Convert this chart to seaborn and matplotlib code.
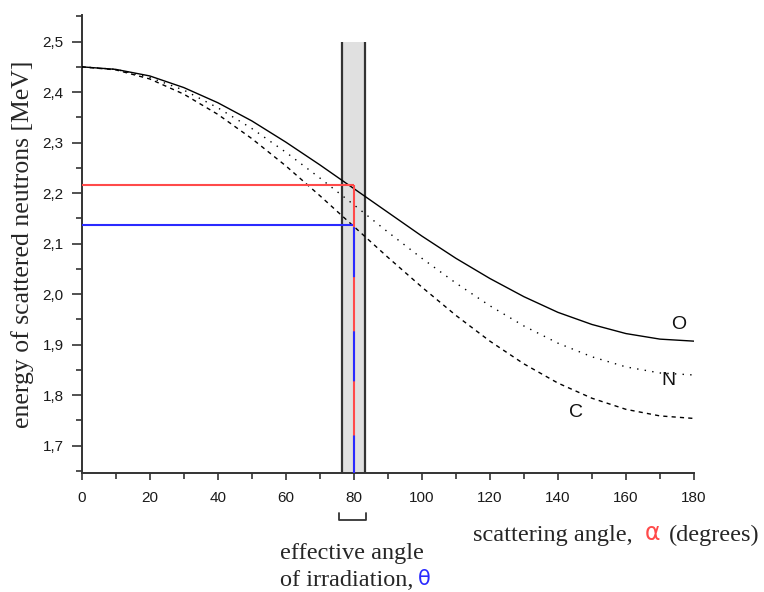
import matplotlib
matplotlib.use("Agg")
import matplotlib.pyplot as plt
from matplotlib.ticker import MultipleLocator
from matplotlib import transforms
import pandas as pd
import seaborn as sns

# ---- data ----
angles = [0, 10, 20, 30, 40, 50, 60, 70, 80, 90, 100, 110, 120, 130, 140, 150, 160, 170, 180]
energy_O = [2.450, 2.445, 2.432, 2.409, 2.379, 2.343, 2.301, 2.256, 2.209, 2.162, 2.115,
            2.071, 2.031, 1.995, 1.964, 1.940, 1.922, 1.911, 1.907]
energy_N = [2.450, 2.445, 2.429, 2.404, 2.369, 2.328, 2.281, 2.230, 2.177, 2.123, 2.071,
            2.022, 1.977, 1.937, 1.903, 1.876, 1.856, 1.844, 1.840]
energy_C = [2.450, 2.444, 2.426, 2.396, 2.356, 2.308, 2.254, 2.195, 2.134, 2.073, 2.014,
            1.958, 1.907, 1.862, 1.824, 1.794, 1.772, 1.759, 1.754]
elements = ["O", "N", "C"]
x_ticks = [0, 20, 40, 60, 80, 100, 120, 140, 160, 180]
y_ticks = [1.7, 1.8, 1.9, 2.0, 2.1, 2.2, 2.3, 2.4, 2.5]
band_range = [76.5, 83.3]
band_top = 2.5
theta = 80
energy_red = 2.216
energy_blue = 2.137

sns.set_style("ticks")
plt.rcParams['font.family'] = ['Liberation Sans', 'DejaVu Sans']

W, H = 764, 592
fig = plt.figure(figsize=(W / 100, H / 100), dpi=100)
ax_left, ax_right, ax_top, ax_bottom = 81.7, 694, 14.8, 473
ax = fig.add_axes([ax_left / W, 1 - ax_bottom / H, (ax_right - ax_left) / W, (ax_bottom - ax_top) / H])

ylo, yhi = 1.646, 2.553
ax.set_xlim(0, 180)
ax.set_ylim(ylo, yhi)

# grey band
ax.fill_between(band_range, [ylo, ylo], [band_top, band_top], color="#e0e0e0", lw=0, zorder=0)
ax.vlines(band_range, ylo, band_top, color="#333333", lw=1.6, zorder=1)

# curves
df = pd.DataFrame({
    "angle": angles * 3,
    "energy": energy_O + energy_N + energy_C,
    "element": [e for e in elements for _ in angles],
})
sns.lineplot(data=df, x="angle", y="energy", style="element",
             dashes={"O": "", "N": (1, 4.5), "C": (3, 3)},
             color="black", lw=1.0, legend=False, ax=ax, zorder=3)

red = "#ff4a4a"
blue = "#2a2aff"
ax.hlines(energy_red, 0, theta, color=red, lw=1.5, zorder=4)
ax.hlines(energy_blue, 0, theta, color=blue, lw=1.5, zorder=4)
ax.vlines(theta, ylo, energy_red, color=red, lw=1.5, zorder=4)
ax.plot([theta, theta], [ylo, energy_blue], color=blue, lw=1.5,
        linestyle=(6, (24, 26)), zorder=5)

# curve labels
for name, (lx, ly) in zip(elements, [(175.4, 1.94), (172.4, 1.83), (145.4, 1.765)]):
    ax.text(lx, ly, name, fontsize=14, ha="center", va="center", color="#111111")

# axes styling
for s in ["top", "right"]:
    ax.spines[s].set_visible(False)
for s in ["left", "bottom"]:
    ax.spines[s].set_color("#333333")
    ax.spines[s].set_linewidth(1.4)
ax.set_xticks(x_ticks)
ax.set_xticklabels([str(v) for v in x_ticks])
ax.set_yticks(y_ticks)
ax.set_yticklabels([f"{v:.1f}".replace(".", ",") for v in y_ticks])
ax.xaxis.set_minor_locator(MultipleLocator(10))
ax.yaxis.set_minor_locator(MultipleLocator(0.05))
ax.tick_params(which="major", length=7, width=1.2, color="#333333", labelsize=11,
               labelcolor="#1a1a1a", direction="out")
ax.tick_params(which="minor", length=4, width=1.2, color="#333333", direction="out")
ax.tick_params(axis="x", which="major", length=5, pad=8)
ax.tick_params(axis="y", which="major", pad=6)
ax.set_xlabel("")
ax.set_ylabel("energy of scattered neutrons [MeV]", family=["Liberation Serif"], fontsize=18.5, labelpad=6)

# bracket below the band
trans = transforms.blended_transform_factory(ax.transData, ax.transAxes)
b0, b1 = -0.087, -0.103
ax.plot([band_range[0] - 1, band_range[0] - 1, band_range[1] + 0.3, band_range[1] + 0.3],
        [b0, b1, b1, b0], transform=trans, color="#333333", lw=1.3, clip_on=False)

serif = ["Liberation Serif", "DejaVu Serif"]
fs = 17.5
fig.text(473 / W, 1 - 535 / H, "scattering angle,", family=serif, fontsize=fs, ha="left", va="center")
fig.text(645 / W, 1 - 533 / H, "α", family=["DejaVu Sans"], fontsize=17, ha="left", va="center", color=red)
fig.text(669 / W, 1 - 535 / H, "(degrees)", family=serif, fontsize=fs, ha="left", va="center")
fig.text(280 / W, 1 - 553 / H, "effective angle", family=serif, fontsize=fs, ha="left", va="center")
fig.text(280 / W, 1 - 580 / H, "of irradiation,", family=serif, fontsize=fs, ha="left", va="center")
fig.text(418 / W, 1 - 579 / H, "θ", family=["DejaVu Sans"], fontsize=15, ha="left", va="center", color=blue)

fig.savefig("out.png", dpi=100)
